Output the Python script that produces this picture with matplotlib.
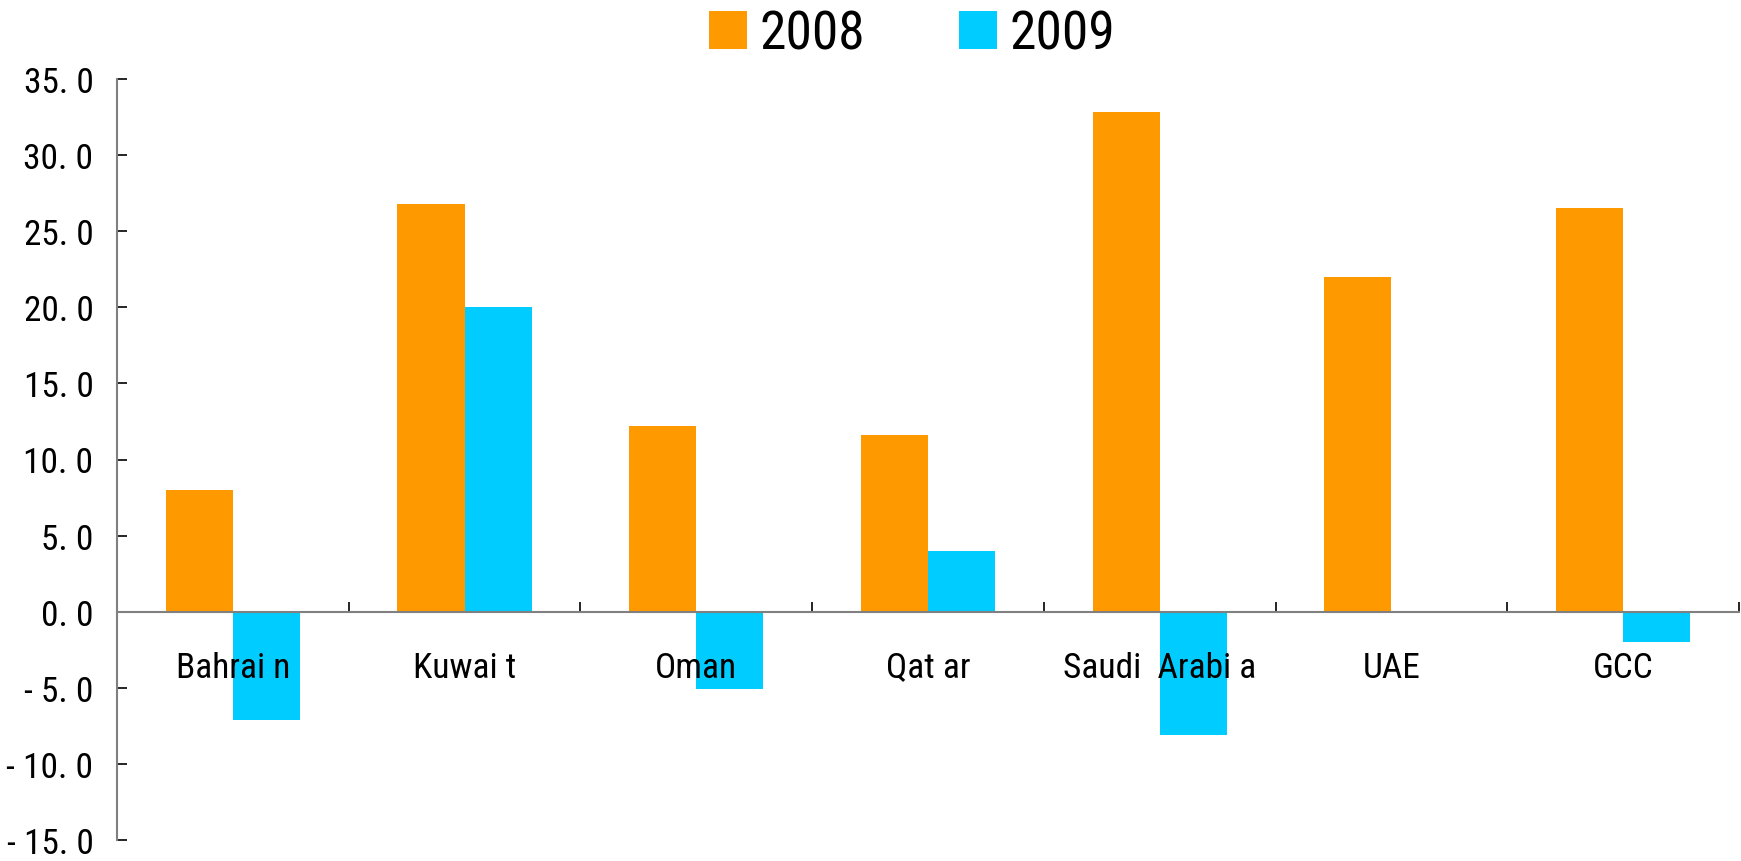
import numpy as np
import matplotlib.pyplot as plt

plt.rcParams['font.family'] = ['Roboto Condensed', 'Archivo Narrow', 'Liberation Sans', 'DejaVu Sans']

categories = ['Bahrai n', 'Kuwai t', 'Oman', 'Qat ar', 'Saudi  Arabi a', 'UAE', 'GCC']
vals_2008 = [8.0, 26.8, 12.2, 11.6, 32.8, 22.0, 26.5]
vals_2009 = [-7.1, 20.0, -5.1, 4.0, -8.1, 0.0, -2.0]
y_ticks = [-15, -10, -5, 0, 5, 10, 15, 20, 25, 30, 35]
y_labels = ['- 15. 0', '- 10. 0', '- 5. 0', '0. 0', '5. 0', '10. 0', '15. 0',
            '20. 0', '25. 0', '30. 0', '35. 0']

W, H = 1741, 862
fig = plt.figure(figsize=(W / 100, H / 100), dpi=100)
ax = fig.add_axes([117 / W, 1 - 841 / H, (1739 - 117) / W, (841 - 80) / H])

x = np.arange(len(categories))
bw = 0.29
b1 = ax.bar(x - bw / 2, vals_2008, bw, color='#FF9900', label='2008')
b2 = ax.bar(x + bw / 2, vals_2009, bw, color='#00CCFF', label='2009')

ax.set_xlim(-0.5, len(categories) - 0.5)
ax.set_ylim(-15, 35)
ax.set_yticks(y_ticks)
ax.set_yticklabels(y_labels, fontsize=25.5)
ax.tick_params(axis='y', direction='in', length=7, width=1.2, pad=17, colors='black')

# category boundaries as ticks on the zero line, names as minor ticks
ax.spines['bottom'].set_position(('data', 0))
ax.set_xticks(np.arange(len(categories)) + 0.5)
ax.set_xticklabels([])
ax.tick_params(axis='x', which='major', direction='in', length=7, width=1.2, colors='black')
ax.set_xticks(x, minor=True)
ax.set_xticklabels(categories, minor=True, fontsize=25.5)
ax.tick_params(axis='x', which='minor', length=0, pad=28)

for s in ['top', 'right']:
    ax.spines[s].set_visible(False)
for s in ['left', 'bottom']:
    ax.spines[s].set_color('#808080')
    ax.spines[s].set_linewidth(1.5)

fig.legend(handles=[b1, b2], loc='upper center', bbox_to_anchor=(912 / W, 1.02),
           ncol=2, frameon=False, fontsize=38.5, handlelength=0.72, handleheight=0.72,
           handletextpad=0.23, columnspacing=1.75, borderaxespad=0.1)

fig.savefig('out.png', dpi=100)
